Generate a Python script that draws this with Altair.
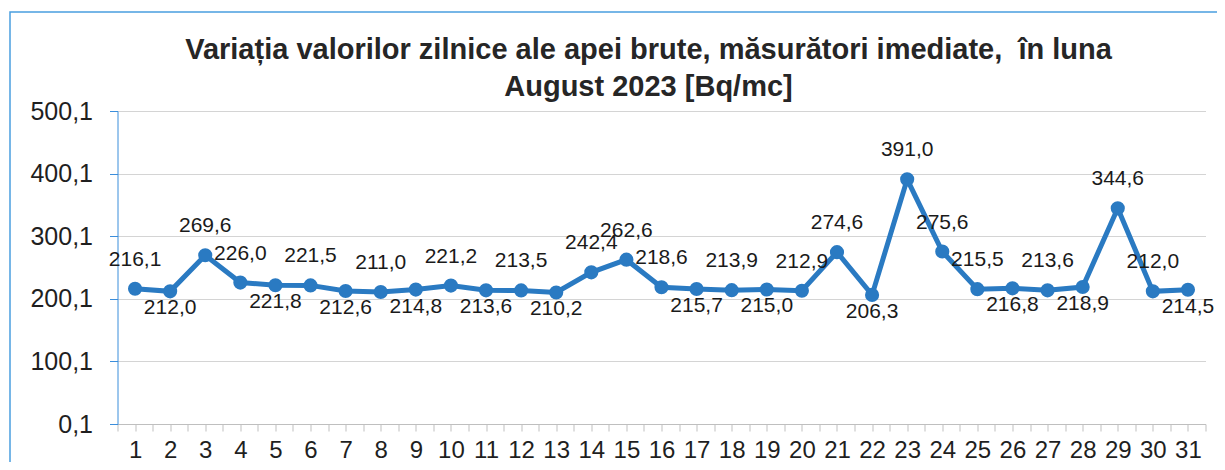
import altair as alt
import pandas as pd

days = list(range(1, 32))
values = [216.1, 212.0, 269.6, 226.0, 221.8, 221.5, 212.6, 211.0, 214.8, 221.2,
          213.6, 213.5, 210.2, 242.4, 262.6, 218.6, 215.7, 213.9, 215.0, 212.9,
          274.6, 206.3, 391.0, 275.6, 215.5, 216.8, 213.6, 218.9, 344.6, 212.0, 214.5]
label_side = ["above", "below", "above", "above", "below", "above", "below", "above",
              "below", "above", "below", "above", "below", "above", "above", "above",
              "below", "above", "below", "above", "above", "below", "above", "above",
              "above", "below", "above", "below", "above", "above", "below"]
y_ticks = [0.1, 100.1, 200.1, 300.1, 400.1, 500.1]
x_ticks = [i / 2 for i in range(1, 64)]

df = pd.DataFrame({
    "day": days,
    "value": values,
    "side": label_side,
    "label": [f"{v:.1f}".replace(".", ",") for v in values],
})

LINE = "#2A7AC2"
AXIS_BLUE = "#3B8EDB"
FONT = "Liberation Sans"

x = alt.X("day:Q",
          scale=alt.Scale(domain=[0.5, 31.5], nice=False, zero=False),
          axis=alt.Axis(values=x_ticks, tickCount=200, grid=False, title=None,
                        labelExpr="datum.value == floor(datum.value) ? format(datum.value, 'd') : ''",
                        labelOverlap=False, labelFlush=False, domainColor="#bfbfbf",
                        tickColor="#bfbfbf", tickSize=7, labelFontSize=24, labelPadding=7,
                        labelColor="#1f1f1f", labelFont=FONT))
y = alt.Y("value:Q",
          scale=alt.Scale(domain=[0.1, 500.1], nice=False, zero=False),
          axis=alt.Axis(values=y_ticks, tickCount=20, title=None,
                        labelExpr="replace(format(datum.value, '.1f'), '.', ',')",
                        domainColor=AXIS_BLUE, tickColor=AXIS_BLUE, tickSize=8,
                        labelFontSize=25, labelPadding=17, labelColor="#1f1f1f",
                        labelFont=FONT, labelFlush=False, gridColor="#d4d4d4", gridWidth=1))

base = alt.Chart(df)
line = base.mark_line(color=LINE, strokeWidth=5).encode(x=x, y=y)
pts = base.mark_circle(color=LINE, opacity=1, size=200).encode(x=x, y=y)
above = base.transform_filter(alt.datum.side == "above").mark_text(
    dy=-29, baseline="middle", fontSize=21, font=FONT, color="#1a1a1a"
).encode(x="day:Q", y="value:Q", text="label:N")
below = base.transform_filter(alt.datum.side == "below").mark_text(
    dy=17, baseline="middle", fontSize=21, font=FONT, color="#1a1a1a"
).encode(x="day:Q", y="value:Q", text="label:N")

frame = alt.Chart(pd.DataFrame({"a": [0]})).mark_rect(
    fill=None, stroke="#4A9FE0", strokeWidth=1.5
).encode(x=alt.value(-107.5), x2=alt.value(1130), y=alt.value(-99), y2=alt.value(380))

chart = alt.layer(frame, line, pts, above, below).properties(
    width=1088, height=313,
    title=alt.TitleParams(
        ["Variația valorilor zilnice ale apei brute, măsurători imediate,\u00a0 în luna",
         "August 2023 [Bq/mc]"],
        anchor="middle", dx=-13, offset=-91, fontSize=29, font=FONT,
        fontWeight="bold", color="#262626", lineHeight=37),
    autosize=alt.AutoSizeParams(type="none"),
    padding={"left": 109.5, "top": 103, "right": 11.5, "bottom": 38},
).configure_view(stroke=None)

chart.save("out.html", embed_options={"renderer": "svg", "actions": False})
